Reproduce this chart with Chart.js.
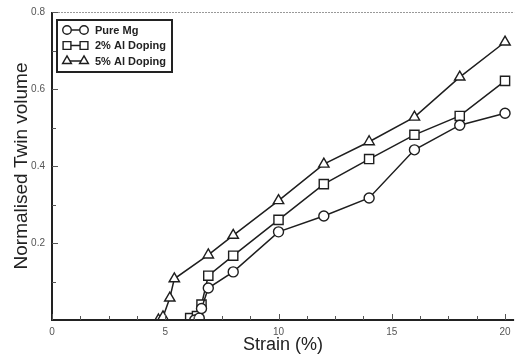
<!DOCTYPE html>
<html>
<head>
<meta charset="utf-8">
<script src="https://cdn.jsdelivr.net/npm/chart.js@4.4.1/dist/chart.umd.min.js"></script>
<style>
  html, body { margin: 0; padding: 0; background: #fff; }
  #wrap { width: 522px; height: 356px; position: relative; }
</style>
</head>
<body>
<div id="wrap"><canvas id="twin-chart"></canvas></div>
<script>
// strain (%) / normalised twin volume
const pureMgX = [6.3, 6.5, 6.6, 6.9, 8.0, 10, 12, 14, 16, 18, 20]
const pureMgY = [0.0, 0.005, 0.03, 0.083, 0.125, 0.229, 0.27, 0.317, 0.442, 0.506, 0.537]

const al2X = [6.1, 6.4, 6.6, 6.9, 8.0, 10, 12, 14, 16, 18, 20]
const al2Y = [0.005, 0.01, 0.04, 0.115, 0.167, 0.26, 0.353, 0.418, 0.481, 0.53, 0.621]

const al5X = [4.7, 4.9, 5.2, 5.4, 6.9, 8.0, 10, 12, 14, 16, 18, 20]
const al5Y = [0.0, 0.008, 0.057, 0.107, 0.169, 0.22, 0.31, 0.405, 0.463, 0.527, 0.631, 0.722]

const seriesLabels = ['Pure Mg', '2% Al Doping', '5% Al Doping']
const xTickLabels = [0, 5, 10, 15, 20]
const xMinorTicks = [1.25, 2.5, 3.75, 6.25, 7.5, 8.75, 11.25, 12.5, 13.75, 16.25, 17.5, 18.75]
const yTickLabels = [0.2, 0.4, 0.6, 0.8]
const yMinorTicks = [0.1, 0.3, 0.5, 0.7]

const toPoints = (xs, ys) => xs.map((x, i) => ({ x, y: ys[i] }))
const ink = '#1e1e1e'

function series(label, xs, ys, style, r) {
  return {
    label,
    data: toPoints(xs, ys),
    borderColor: ink,
    borderWidth: 1.5,
    pointStyle: style,
    pointRadius: r,
    pointBorderWidth: 1.4,
    pointBackgroundColor: '#fff',
    pointBorderColor: ink,
    showLine: true,
    tension: 0
  }
}

// axis lines, inward tick marks and the boxed legend
const framePlugin = {
  id: 'frame',
  afterDatasetsDraw(chart) {
    const { ctx, chartArea: a, scales: { x, y } } = chart
    ctx.save()
    ctx.strokeStyle = '#999'
    ctx.lineWidth = 1
    ctx.setLineDash([2, 1])
    ctx.beginPath()
    ctx.moveTo(a.left, a.top + 0.5)
    ctx.lineTo(a.right, a.top + 0.5)
    ctx.stroke()
    ctx.setLineDash([])

    ctx.strokeStyle = '#222'
    ctx.lineWidth = 2
    ctx.beginPath()
    ctx.moveTo(a.left, a.top)
    ctx.lineTo(a.left, a.bottom)
    ctx.lineTo(a.right, a.bottom)
    ctx.stroke()

    ctx.lineWidth = 1
    ctx.strokeStyle = '#555'
    ctx.beginPath()
    xTickLabels.forEach(v => { const px = Math.round(x.getPixelForValue(v)) + 0.5; ctx.moveTo(px, a.bottom); ctx.lineTo(px, a.bottom - 6) })
    xMinorTicks.forEach(v => { const px = Math.round(x.getPixelForValue(v)) + 0.5; ctx.moveTo(px, a.bottom); ctx.lineTo(px, a.bottom - 4) })
    yTickLabels.forEach(v => { const py = Math.round(y.getPixelForValue(v)) + 0.5; ctx.moveTo(a.left, py); ctx.lineTo(a.left + 6, py) })
    yMinorTicks.forEach(v => { const py = Math.round(y.getPixelForValue(v)) + 0.5; ctx.moveTo(a.left, py); ctx.lineTo(a.left + 4, py) })
    ctx.stroke()

    // legend
    const bx = a.left + 5, by = a.top + 8, bw = 115, bh = 52
    ctx.fillStyle = '#fff'
    ctx.fillRect(bx, by, bw, bh)
    ctx.strokeStyle = '#222'
    ctx.lineWidth = 2
    ctx.strokeRect(bx, by, bw, bh)
    ctx.font = 'bold 11px "Liberation Sans", Arial, sans-serif'
    ctx.textBaseline = 'middle'
    chart.data.datasets.forEach((ds, i) => {
      const ly = by + 10 + i * 15.5
      ctx.strokeStyle = ink
      ctx.lineWidth = 1.5
      ctx.beginPath()
      ctx.moveTo(bx + 10, ly)
      ctx.lineTo(bx + 27, ly)
      ctx.stroke()
      const opts = { pointStyle: ds.pointStyle, radius: ds.pointRadius * 0.85, borderWidth: 1.4 }
      ctx.fillStyle = '#fff'
      ctx.lineWidth = 1.4
      Chart.helpers.drawPoint(ctx, opts, bx + 10, ly)
      Chart.helpers.drawPoint(ctx, opts, bx + 27, ly)
      ctx.fillStyle = '#222'
      ctx.fillText(ds.label, bx + 38, ly + 0.5)
    })
    ctx.restore()
  }
}

new Chart(document.getElementById('twin-chart').getContext('2d'), {
  type: 'scatter',
  data: {
    datasets: [
      series(seriesLabels[0], pureMgX, pureMgY, 'circle', 5),
      series(seriesLabels[1], al2X, al2Y, 'rect', 6.5),
      series(seriesLabels[2], al5X, al5Y, 'triangle', 6)
    ]
  },
  options: {
    responsive: true,
    maintainAspectRatio: false,
    animation: false,
    layout: { padding: { top: 12, right: 1, left: 0, bottom: 0 } },
    plugins: { legend: { display: false }, tooltip: { enabled: false } },
    scales: {
      x: {
        type: 'linear',
        min: 0,
        max: 20.4,
        afterBuildTicks: s => { s.ticks = xTickLabels.map(v => ({ value: v })) },
        afterFit: s => { s.height = 36 },
        grid: { display: false },
        border: { display: false },
        ticks: { color: '#555', padding: -2, font: { size: 10, family: '"Liberation Sans", Arial' }, callback: v => String(v) },
        title: { display: true, text: 'Strain (%)', color: '#222', padding: { top: 0, bottom: 0 }, font: { size: 18, family: '"Liberation Sans", Arial' } }
      },
      y: {
        min: 0,
        max: 0.8,
        afterBuildTicks: s => { s.ticks = yTickLabels.map(v => ({ value: v })) },
        afterFit: s => { s.width = 52 },
        grid: { display: false },
        border: { display: false },
        ticks: { color: '#555', padding: -1, font: { size: 10, family: '"Liberation Sans", Arial' }, callback: v => v.toFixed(1) },
        title: { display: true, text: 'Normalised Twin volume', color: '#222', padding: { top: 10, bottom: 0 }, font: { size: 19, family: '"Liberation Sans", Arial' } }
      }
    }
  },
  plugins: [framePlugin]
})
</script>
</body>
</html>
